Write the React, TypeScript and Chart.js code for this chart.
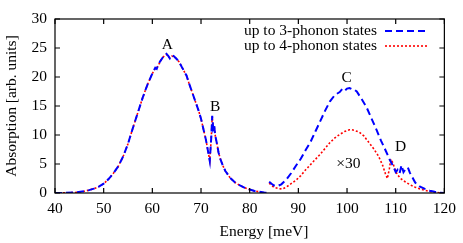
import React, { useEffect, useRef } from "react";
import { Chart, registerables } from "chart.js";

Chart.register(...registerables);

// Left region (peaks A, B) — energy in meV
const xLeft = [40, 42, 44, 46, 47, 48, 49, 50, 51, 52, 53, 54, 55, 56, 57, 58, 59, 60, 60.6, 60.9, 61.2, 61.6, 62.0, 62.5, 62.9, 63.3, 63.6, 64.0, 64.4, 65.0, 65.5, 66.0, 66.4, 66.7, 67.0, 67.5, 68.0, 68.5, 69.0, 69.5, 70.0, 70.5, 71.0, 71.4, 71.8, 72.1, 72.3, 72.5, 72.7, 72.9, 73.2, 73.6, 74.0, 74.5, 75, 76, 77, 78, 79, 80, 81, 82, 83, 83.6];
const blueLeft = [0, 0.02, 0.08, 0.3, 0.5, 0.75, 1.1, 1.6, 2.4, 3.4, 4.6, 6.3, 8.5, 11.2, 13.8, 16.4, 18.7, 20.6, 21.6, 21.4, 22.1, 22.7, 23.2, 23.8, 24.0, 23.6, 23.2, 23.7, 23.6, 23.1, 22.6, 21.8, 21.2, 20.7, 20.3, 19.0, 17.8, 16.6, 15.4, 14.2, 12.8, 11.0, 9.2, 7.4, 5.5, 9.5, 13.3, 11.2, 11.8, 10.0, 8.8, 7.0, 5.8, 4.7, 3.8, 2.6, 1.8, 1.3, 0.9, 0.6, 0.35, 0.2, 0.08, 0.03];
const redLeft = [0, 0.02, 0.08, 0.3, 0.5, 0.75, 1.1, 1.6, 2.4, 3.4, 4.6, 6.3, 8.5, 11.2, 13.8, 16.4, 18.7, 20.6, 21.5, 21.5, 22.0, 22.6, 23.2, 23.7, 23.9, 23.5, 23.3, 23.6, 23.5, 23.1, 22.6, 21.8, 21.2, 20.7, 20.3, 19.0, 17.8, 16.6, 15.4, 14.2, 12.8, 11.0, 9.2, 7.4, 5.6, 9.4, 13.2, 11.3, 11.6, 10.0, 8.8, 7.0, 5.8, 4.7, 3.8, 2.6, 1.8, 1.3, 0.9, 0.6, 0.35, 0.2, 0.08, 0.03];

// Right region (peaks C, D), scaled x30
const xRightBlue = [84.0, 84.5, 85.0, 85.7, 86.5, 87.5, 88.5, 89.5, 90.5, 91.5, 92.5, 93.5, 94.5, 95.5, 96.5, 97.5, 98.5, 99.0, 99.5, 100.0, 100.5, 101.0, 101.5, 102.0, 103.0, 104.0, 105.0, 106.0, 107.0, 108.0, 108.8, 109.5, 110.0, 110.4, 110.8, 111.2, 111.6, 112.0, 112.5, 112.9, 113.5, 114.0, 115.0, 116.0, 117.0, 118.0, 119.0, 120];
const blueRight = [1.95, 1.6, 1.3, 1.2, 1.5, 2.3, 3.4, 4.7, 5.9, 7.4, 8.8, 10.6, 12.4, 14.2, 15.8, 16.9, 17.4, 17.9, 17.6, 18.0, 18.1, 17.9, 17.8, 17.5, 16.2, 14.8, 12.9, 11.0, 9.0, 7.2, 5.7, 4.6, 3.6, 4.0, 3.4, 4.8, 3.6, 4.1, 4.4, 3.5, 2.6, 1.8, 1.1, 0.7, 0.4, 0.2, 0.05, 0];
const xRightRed = [84.0, 84.5, 85.0, 86.0, 86.7, 87.5, 88.5, 89.5, 90.5, 91.5, 92.5, 93.5, 94.5, 95.5, 96.5, 97.5, 98.5, 99.5, 100.5, 101.0, 101.5, 102.5, 103.5, 104.5, 105.5, 106.5, 107.3, 107.9, 108.3, 108.7, 109.0, 109.4, 109.8, 110.3, 111.0, 112.0, 113.0, 114.0, 115.0, 116.0, 117.0, 118.0, 119.0, 120];
const redRight = [1.7, 1.3, 1.0, 0.75, 0.7, 1.0, 1.6, 2.2, 3.0, 4.0, 4.9, 5.8, 6.7, 7.7, 8.7, 9.5, 10.1, 10.6, 10.9, 10.9, 10.8, 10.5, 9.8, 8.7, 7.6, 6.3, 4.8, 3.3, 2.5, 4.2, 5.8, 5.2, 4.2, 3.2, 2.5, 1.9, 1.4, 1.0, 0.7, 0.45, 0.25, 0.12, 0.05, 0];

const seriesLabels = ["up to 3-phonon states", "up to 4-phonon states"];
const xTicks = [40, 50, 60, 70, 80, 90, 100, 110, 120];
const yTicks = [0, 5, 10, 15, 20, 25, 30];
const xTitle = "Energy [meV]";
const yTitle = "Absorption [arb. units]";

const annotations = [
  { text: "A", x: 63.1, y: 25.5 },
  { text: "B", x: 72.9, y: 14.8 },
  { text: "C", x: 99.9, y: 19.8 },
  { text: "D", x: 111.0, y: 7.9 },
  { text: "×30", x: 100.3, y: 5.0 },
];

const FONT = "'Liberation Serif', 'DejaVu Serif', serif";
const FS = 15.5;

function build(xs1: number[], ys1: number[], xs2: number[], ys2: number[]) {
  const pts: { x: number; y: number | null }[] = [];
  xs1.forEach((x, i) => pts.push({ x, y: ys1[i] }));
  pts.push({ x: 83.8, y: null });
  xs2.forEach((x, i) => pts.push({ x, y: ys2[i] }));
  return pts;
}

const framePlugin = {
  id: "frameTicks",
  afterDraw(chart: any) {
    const { ctx, chartArea: a, scales } = chart;
    const tl = 5;
    ctx.save();
    ctx.strokeStyle = "#000";
    ctx.lineWidth = 1.2;
    ctx.strokeRect(a.left, a.top, a.right - a.left, a.bottom - a.top);
    ctx.beginPath();
    xTicks.forEach((v) => {
      const px = scales.x.getPixelForValue(v);
      ctx.moveTo(px, a.bottom);
      ctx.lineTo(px, a.bottom - tl);
      ctx.moveTo(px, a.top);
      ctx.lineTo(px, a.top + tl);
    });
    yTicks.forEach((v) => {
      const py = scales.y.getPixelForValue(v);
      ctx.moveTo(a.left, py);
      ctx.lineTo(a.left + tl, py);
      ctx.moveTo(a.right, py);
      ctx.lineTo(a.right - tl, py);
    });
    ctx.stroke();

    ctx.fillStyle = "#000";
    ctx.font = `${FS}px ${FONT}`;
    ctx.textAlign = "center";
    ctx.textBaseline = "middle";
    annotations.forEach((an) => {
      ctx.fillText(an.text, scales.x.getPixelForValue(an.x), scales.y.getPixelForValue(an.y));
    });

    // x-axis title (offset to the right as in the reference)
    ctx.fillText(xTitle, 264, 232);

    // legend (text right-aligned, sample on the right)
    const rows = [31, 46];
    chart.data.datasets.forEach((ds: any, i: number) => {
      ctx.fillStyle = "#000";
      ctx.textAlign = "right";
      ctx.fillText(ds.label, 377, rows[i]);
      ctx.beginPath();
      ctx.strokeStyle = ds.borderColor;
      ctx.lineWidth = ds.borderWidth;
      ctx.setLineDash(ds.borderDash);
      ctx.moveTo(385, rows[i]);
      ctx.lineTo(428, rows[i]);
      ctx.stroke();
      ctx.setLineDash([]);
    });
    ctx.restore();
  },
};

export default function App() {
  const ref = useRef<HTMLCanvasElement>(null);
  useEffect(() => {
    if (!ref.current) return;
    const chart = new Chart(ref.current, {
      type: "line",
      data: {
        datasets: [
          {
            label: seriesLabels[0],
            data: build(xLeft, blueLeft, xRightBlue, blueRight),
            borderColor: "#0000ff",
            borderWidth: 2,
            borderDash: [7, 4],
            pointRadius: 0,
            tension: 0,
            spanGaps: false,
            fill: false,
          },
          {
            label: seriesLabels[1],
            data: build(xLeft, redLeft, xRightRed, redRight),
            borderColor: "#ff0000",
            borderWidth: 1.6,
            borderDash: [2, 2],
            pointRadius: 0,
            tension: 0,
            spanGaps: false,
            fill: false,
          },
        ],
      },
      options: {
        responsive: false,
        animation: false,
        layout: { padding: { left: 0, top: 19, right: 17, bottom: 0 } },
        plugins: { legend: { display: false }, tooltip: { enabled: false } },
        scales: {
          x: {
            type: "linear",
            min: 40,
            max: 120,
            grid: { display: false, drawTicks: false },
            border: { display: false },
            ticks: { stepSize: 10, color: "#000", font: { family: FONT, size: FS }, padding: 7, maxRotation: 0 },
            afterFit: (s: any) => { s.height = 50; },
          },
          y: {
            min: 0,
            max: 30,
            grid: { display: false, drawTicks: false },
            border: { display: false },
            ticks: { stepSize: 5, color: "#000", font: { family: FONT, size: FS }, padding: 8 },
            title: { display: true, text: yTitle, color: "#000", font: { family: FONT, size: FS }, padding: { top: 3, bottom: 0 } },
            afterFit: (s: any) => { s.width = 55; },
          },
        },
      },
      plugins: [framePlugin],
    });
    return () => chart.destroy();
  }, []);
  return (
    <div style={{ position: "absolute", left: 0, top: 0, width: 463, height: 243, background: "#fff" }}>
      <canvas ref={ref} width={463} height={243} style={{ display: "block" }} />
    </div>
  );
}
